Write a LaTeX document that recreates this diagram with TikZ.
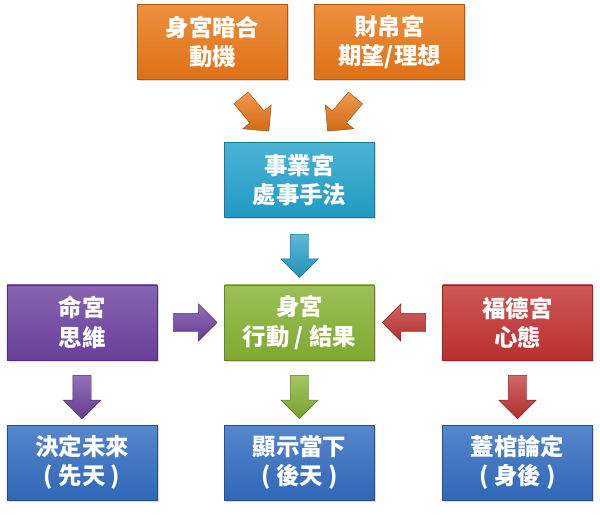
\documentclass[tikz,border=0pt]{standalone}
\usepackage{fontspec}
\newfontfamily\cjk{Noto Sans CJK TC}
\usetikzlibrary{shapes,arrows,positioning,calc,shadows}

\definecolor{boxorange}{HTML}{E97716}
\definecolor{boxteal}{HTML}{23A2CC}
\definecolor{boxpurple}{HTML}{6E42A0}
\definecolor{boxgreen}{HTML}{86B133}
\definecolor{boxred}{HTML}{C33332}
\definecolor{boxblue}{HTML}{326CC0}

\begin{document}
\begin{tikzpicture}[x=0.03cm, y=-0.03cm,
    palace/.style={draw=#1!75!black, rectangle, minimum width=4.5cm, minimum height=2.25cm, align=center, text=white, font=\cjk\bfseries\fontsize{20}{25}\selectfont, top color=#1!82!white, bottom color=#1!95!black, drop shadow={opacity=0.3, shadow xshift=0.5mm, shadow yshift=-0.5mm}},
    barrow/.style={single arrow, draw=#1!70!black, minimum height=1.3cm, inner sep=0.27cm, single arrow head extend=0.28cm, top color=#1!75!white, bottom color=#1!90!black}
]
\useasboundingbox (0,0) rectangle (600,514);

\node[palace=boxorange] (anhe) at (212.5,42) {身宮暗合\\動機};
\node[palace=boxorange] (caibo) at (389.5,42) {財帛宮\\期望/理想};

\node[palace=boxteal] (shiye) at (299.5,180) {事業宮\\處事手法};

\node[palace=boxpurple] (ming) at (82,322.5) {命宮\\思維};
\node[palace=boxgreen] (shen) at (299.5,322.5) {身宮\\行動 / 結果};
\node[palace=boxred] (fude) at (517.5,322.5) {福德宮\\心態};

\node[palace=boxblue] (weilai) at (82,462.5) {決定未來\\( 先天 )};
\node[palace=boxblue] (dangxia) at (299.5,462.5) {顯示當下\\( 後天 )};
\node[palace=boxblue] (shenhou) at (517.5,462.5) {蓋棺論定\\( 身後 )};

% block arrows
\node[barrow=boxorange, rotate=-50] (a1) at ($(anhe.south)!0.5!(shiye.north)+(-4,0)$) {};
\node[barrow=boxorange, rotate=-130] (a2) at ($(caibo.south)!0.5!(shiye.north)$) {};
\node[barrow=boxteal, rotate=-90] (a3) at ($(shiye.south)!0.5!(shen.north)$) {};
\node[barrow=boxpurple] (a4) at ($(ming.east)!0.5!(shen.west)$) {};
\node[barrow=boxred, rotate=180] (a5) at ($(fude.west)!0.5!(shen.east)$) {};
\node[barrow=boxpurple, rotate=-90] (a6) at ($(ming.south)!0.5!(weilai.north)$) {};
\node[barrow=boxgreen, rotate=-90] (a7) at ($(shen.south)!0.5!(dangxia.north)$) {};
\node[barrow=boxred, rotate=-90] (a8) at ($(fude.south)!0.5!(shenhou.north)$) {};
\end{tikzpicture}
\end{document}
